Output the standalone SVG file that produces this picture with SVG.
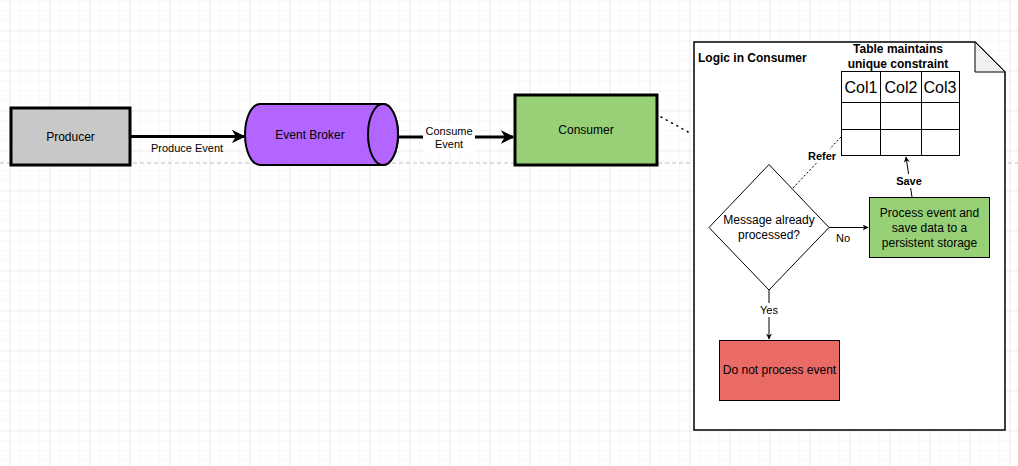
<svg xmlns="http://www.w3.org/2000/svg" width="1018" height="466" viewBox="0 0 1018 466">
<defs>
<pattern id="minor" width="10" height="10" patternUnits="userSpaceOnUse" x="9" y="0">
<path d="M0 0H10M0 0V10" fill="none" stroke="#f3f3f3" stroke-width="1"/>
</pattern>
<pattern id="major" width="40" height="40" patternUnits="userSpaceOnUse" x="9.5" y="30.5">
<path d="M0 0H40M0 0V40" fill="none" stroke="#e0e0e0" stroke-width="1"/>
</pattern>
<marker id="ah" viewBox="0 0 10 10" refX="9" refY="5" markerWidth="6" markerHeight="6" orient="auto" markerUnits="userSpaceOnUse">
<path d="M0 0L10 5L0 10L3 5Z" fill="#000"/>
</marker>
<marker id="ahBig" viewBox="0 0 10 10" refX="9" refY="5" markerWidth="4.5" markerHeight="4.5" orient="auto">
<path d="M0 0L10 5L0 10L3 5Z" fill="#000"/>
</marker>
</defs>
<style>
text{font-family:"Liberation Sans",Arial,sans-serif;fill:#000;}
.lbl{font-size:11px;text-anchor:middle;}
.nt{font-size:12px;text-anchor:middle;}
.b{font-weight:bold;}
.thick{stroke:#000;stroke-width:3;}
.thin{stroke:#000;stroke-width:1;}
</style>
<rect width="1018" height="466" fill="#fff"/>
<rect width="1018" height="466" fill="url(#minor)"/>
<rect width="1018" height="466" fill="url(#major)"/>
<line x1="0" y1="163" x2="1018" y2="163" stroke="#bdbdbd" stroke-width="1" stroke-dasharray="4 3"/>

<g id="connectors">
<line x1="130" y1="136.5" x2="244" y2="136.5" stroke="#000" stroke-width="3" marker-end="url(#ahBig)"/>
<text class="lbl" x="187" y="152">Produce Event</text>
<line x1="398" y1="137" x2="513" y2="137" stroke="#000" stroke-width="3" marker-end="url(#ahBig)"/>
<rect x="423" y="124" width="52" height="28" fill="#fff"/>
<text class="lbl" x="449" y="135">Consume</text>
<text class="lbl" x="449" y="148">Event</text>
<line x1="661" y1="117" x2="690" y2="133" stroke="#000" stroke-width="1.5" stroke-dasharray="1 5" stroke-linecap="round"/>
</g>

<g id="producer">
<rect x="11" y="108" width="119" height="57" fill="#c8c8c8" class="thick"/>
<text class="nt" x="70.5" y="141">Producer</text>
</g>

<g id="event-broker">
<path d="M260 104H383A15 30.5 0 0 1 383 165H260A15 30.5 0 0 1 260 104Z" fill="#b266ff" stroke="#000" stroke-width="2"/>
<ellipse cx="383" cy="134.5" rx="15" ry="30.5" fill="#b266ff" stroke="#000" stroke-width="2"/>
<text class="nt" x="310" y="139">Event Broker</text>
</g>

<g id="consumer">
<rect x="515" y="95" width="142" height="70" fill="#97d077" class="thick"/>
<text class="nt" x="586" y="134">Consumer</text>
</g>

<g id="logic-box">
<path d="M694 42H975L1005 72V430H694Z" fill="#fff" stroke="#000" stroke-width="1.5"/>
<path d="M975 42V72H1005Z" fill="#f0f0f0" stroke="#000" stroke-width="1"/>
<text x="698" y="62" font-size="12" class="b">Logic in Consumer</text>
</g>

<g id="table">
<text class="nt b" x="898" y="53">Table maintains</text>
<text class="nt b" x="898" y="68">unique constraint</text>
<rect x="841.5" y="71.5" width="118" height="84" fill="#fff" class="thin"/>
<path d="M880.5 71.5V155.5M921.5 71.5V155.5M841.5 102.5H959.5M841.5 129.5H959.5" fill="none" class="thin"/>
<text x="861" y="93" font-size="16" text-anchor="middle">Col1</text>
<text x="901" y="93" font-size="16" text-anchor="middle">Col2</text>
<text x="940" y="93" font-size="16" text-anchor="middle">Col3</text>
</g>

<g id="inner-connectors">
<line x1="793" y1="188" x2="841" y2="137" stroke="#000" stroke-width="1" stroke-dasharray="2 2"/>
<rect x="806" y="149" width="33" height="14" fill="#fff"/>
<text x="822" y="160" font-size="11" text-anchor="middle" class="b">Refer</text>
<line x1="912" y1="197" x2="906" y2="157" stroke="#000" stroke-width="1" marker-end="url(#ah)"/>
<rect x="894" y="174" width="30" height="14" fill="#fff"/>
<text x="909" y="185" font-size="11" text-anchor="middle" class="b">Save</text>
<line x1="829" y1="227.5" x2="868" y2="227.5" stroke="#000" stroke-width="1" marker-end="url(#ah)"/>
<text x="843" y="242" font-size="11" text-anchor="middle">No</text>
<line x1="769" y1="290" x2="769" y2="339" stroke="#000" stroke-width="1" marker-end="url(#ah)"/>
<rect x="758" y="303" width="22" height="14" fill="#fff"/>
<text x="769" y="314" font-size="11" text-anchor="middle">Yes</text>
</g>

<g id="decision">
<path d="M769 164.5L829 227.5L769 290L709 227.5Z" fill="#fff" class="thin"/>
<text class="nt" x="769" y="224">Message already</text>
<text class="nt" x="769" y="239">processed?</text>
</g>

<g id="process">
<rect x="869.5" y="197.5" width="120" height="60" fill="#97d077" class="thin"/>
<text class="nt" x="929.5" y="217">Process event and</text>
<text class="nt" x="929.5" y="232">save data to a</text>
<text class="nt" x="929.5" y="247">persistent storage</text>
</g>

<g id="do-not-process">
<rect x="719.5" y="340.5" width="120" height="60" fill="#ea6b66" class="thin"/>
<text class="nt" x="779.5" y="374">Do not process event</text>
</g>
</svg>
